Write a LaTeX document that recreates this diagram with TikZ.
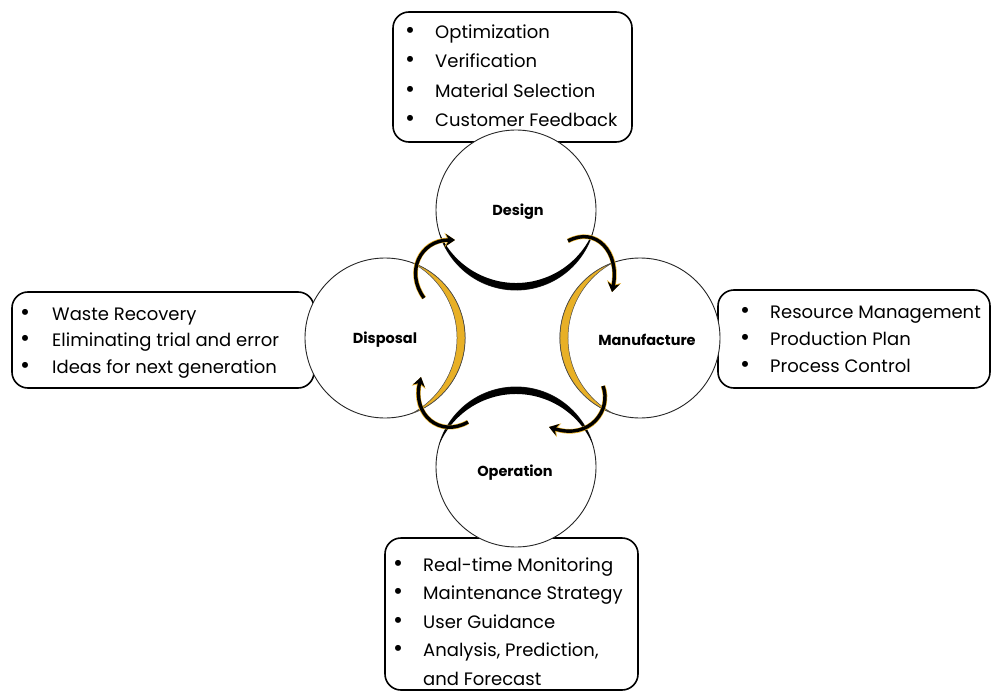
\documentclass[tikz,border=0pt]{standalone}
\usepackage{fontspec}
\setmainfont{Poppins}
\usetikzlibrary{arrows.meta}
\definecolor{gold}{RGB}{232,176,38}
\newcommand\bl{\makebox[30pt][l]{\scalebox{1.35}{\textbullet}}}
\newcommand\wbl{\makebox[32pt][l]{\scalebox{1.35}{\textbullet}}}
\newcommand\nobl{\makebox[30pt][l]{}}
\begin{document}
\begin{tikzpicture}[x=1pt,y=-1pt,
  infobox/.style={draw=black, line width=1.6pt, rounded corners=16pt},
  phase/.style={circle, draw=black!85, line width=0.9pt, fill=white, minimum size=160pt, inner sep=0pt},
  phaselabel/.style={font=\bfseries\fontsize{14.5}{17}\selectfont, inner sep=0pt},
  itemlist/.style={anchor=base west, inner sep=0pt, align=left},
  cycarrow/.style={line width=3.4pt, black, -{Stealth[length=9pt,width=12pt]},
    preaction={draw=gold, line width=4.6pt, -{Stealth[length=10.5pt,width=14pt]}}},
  blackcres/.style={fill=black},
  goldcres/.style={fill=gold, draw=black!70, line width=0.5pt},
]
\useasboundingbox (0,0) rectangle (995,695);
\fill[white] (0,0) rectangle (995,695);

% item boxes
\draw[infobox] (393,12) rectangle (632,142);
\draw[infobox] (12,292) rectangle (314,388);
\draw[infobox] (718,290) rectangle (990,388);
\draw[infobox] (385,538) rectangle (638,690);

\node[itemlist, font=\fontsize{18}{29.5}\selectfont] (designlist) at (405,38.5)
  {\begin{tabular}[t]{@{}l@{}}\bl Optimization\\ \bl Verification\\ \bl Material Selection\\ \bl Customer Feedback\end{tabular}};
\node[itemlist, font=\fontsize{18}{26.5}\selectfont] (disposallist) at (20,320)
  {\begin{tabular}[t]{@{}l@{}}\wbl Waste Recovery\\ \wbl Eliminating trial and error\\ \wbl Ideas for next generation\end{tabular}};
\node[itemlist, font=\fontsize{18}{27}\selectfont] (manulist) at (740,318)
  {\begin{tabular}[t]{@{}l@{}}\bl Resource Management\\ \bl Production Plan\\ \bl Process Control\end{tabular}};
\node[itemlist, font=\fontsize{18}{28.5}\selectfont] (operlist) at (393,571)
  {\begin{tabular}[t]{@{}l@{}}\bl Real-time Monitoring\\ \bl Maintenance Strategy\\ \bl User Guidance\\ \bl Analysis, Prediction,\\ \nobl and Forecast\end{tabular}};

% life-cycle phases
\node[phase] (design) at (516,210) {};
\node[phase] (disposal) at (385,338) {};
\node[phase] (manufacture) at (640,338) {};
\node[phase] (operation) at (516,467) {};

\node[phaselabel] (designlbl) at (518,212) {Design};
\node[phaselabel] (disposallbl) at (385,340) {Disposal};
\node[phaselabel] (manulbl) at (647,340) {Manufacture};
\node[phaselabel] (operlbl) at (515,473) {Operation};

% crescents on the inner side of each phase
\begin{scope}[shift={(design.center)}, rotate=-90]
  \fill[blackcres] (-74:80) arc[start angle=-74,end angle=74,radius=80]
    arc[start angle=67.05,end angle=-67.05,radius=83.51] -- cycle;
\end{scope}
\begin{scope}[shift={(operation.center)}, rotate=90]
  \fill[blackcres] (-74:80) arc[start angle=-74,end angle=74,radius=80]
    arc[start angle=67.05,end angle=-67.05,radius=83.51] -- cycle;
\end{scope}
\begin{scope}[shift={(disposal.center)}, rotate=0]
  \filldraw[goldcres] (-70:80) arc[start angle=-70,end angle=70,radius=80]
    arc[start angle=61.4,end angle=-61.4,radius=85.63] -- cycle;
\end{scope}
\begin{scope}[shift={(manufacture.center)}, rotate=180]
  \filldraw[goldcres] (-70:80) arc[start angle=-70,end angle=70,radius=80]
    arc[start angle=61.4,end angle=-61.4,radius=85.63] -- cycle;
\end{scope}

% cycle arrows
\coordinate (dmtail) at (568,241);
\coordinate (dmhead) at (612,292);
\coordinate (motail) at (603,386);
\coordinate (mohead) at (549,427);
\coordinate (odtail) at (468,422);
\coordinate (odhead) at (421,377);
\coordinate (ddtail) at (424,298);
\coordinate (ddhead) at (455,240);

\draw[cycarrow] (dmtail) .. controls (596,226) and (620,252) .. (dmhead);
\draw[cycarrow] (motail) .. controls (612,410) and (590,440) .. (mohead);
\draw[cycarrow] (odtail) .. controls (440,438) and (412,415) .. (odhead);
\draw[cycarrow] (ddtail) .. controls (405,272) and (420,240) .. (ddhead);
\end{tikzpicture}
\end{document}
